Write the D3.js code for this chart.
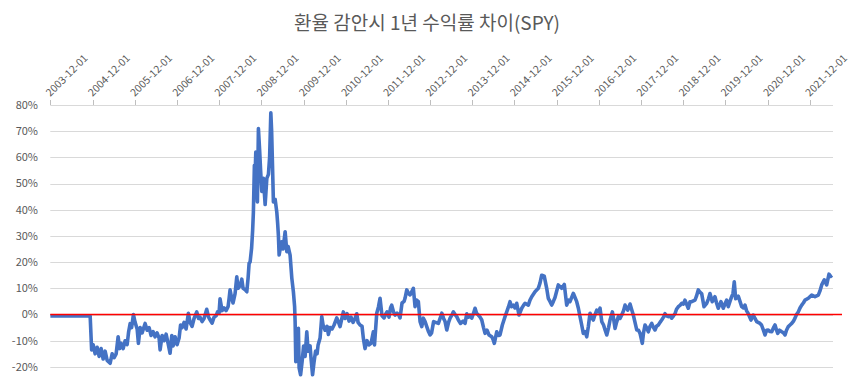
<!DOCTYPE html>
<html>
<head>
<meta charset="utf-8">
<script src="https://cdn.jsdelivr.net/npm/d3@7/dist/d3.min.js"></script>
<style>
  body { margin: 0; background: #fff; }
  svg { display: block; }
</style>
</head>
<body>
<script>
// Width and height
const w = 850;
const h = 387;

const chartTitle = "환율 감안시 1년 수익률 차이(SPY)";

// x axis labels (one per year)
const xLabels = ["2003-12-01", "2004-12-01", "2005-12-01", "2006-12-01", "2007-12-01",
  "2008-12-01", "2009-12-01", "2010-12-01", "2011-12-01", "2012-12-01", "2013-12-01",
  "2014-12-01", "2015-12-01", "2016-12-01", "2017-12-01", "2018-12-01", "2019-12-01",
  "2020-12-01", "2021-12-01"];

// y axis ticks, in %
const yTicks = [-20, -10, 0, 10, 20, 30, 40, 50, 60, 70, 80];

// last date shown on the axis (decimal year)
const xEndYear = 2022.465;

// 1y return gap (KRW vs USD) for SPY, [decimal year, %]
const spyGap = [
  [2003.917,-0.5],[2004.858,-0.5],[2004.893,-13.5],[2004.929,-11.5],[2004.976,-15],[2005.024,-12.5],
  [2005.071,-16],[2005.118,-13],[2005.166,-17],[2005.213,-14],[2005.261,-17.5],[2005.332,-18.6],
  [2005.379,-15],[2005.426,-16.5],[2005.474,-15],[2005.521,-8.5],[2005.557,-13],[2005.592,-11],
  [2005.640,-13],[2005.687,-10],[2005.735,-11.5],[2005.770,-6.6],[2005.806,-3.5],[2005.841,-5],
  [2005.884,0],[2005.924,-3],[2005.972,-5.5],[2006.002,-11],[2006.043,-5],[2006.090,-7],
  [2006.161,-3.4],[2006.209,-6],[2006.256,-5],[2006.303,-8],[2006.351,-6.5],[2006.398,-8.5],
  [2006.445,-7],[2006.493,-9],[2006.517,-13.5],[2006.564,-8],[2006.611,-10],[2006.659,-7.5],
  [2006.706,-11],[2006.753,-14.8],[2006.794,-8],[2006.825,-12],[2006.872,-8.5],[2006.919,-11.5],
  [2006.967,-9],[2007.002,-4],[2007.038,-5],[2007.085,-3],[2007.133,-5.5],[2007.187,0.5],
  [2007.227,-3],[2007.275,-4.5],[2007.322,-1.5],[2007.386,1],[2007.429,-1.5],[2007.464,-1],
  [2007.512,-2.7],[2007.559,-1.5],[2007.623,2],[2007.666,-1],[2007.701,-2],[2007.749,-3.3],
  [2007.796,-1],[2007.844,-0.5],[2007.879,1],[2007.915,0.5],[2007.938,6],[2007.986,1.5],
  [2008.033,2.5],[2008.081,1.5],[2008.128,3],[2008.152,6],[2008.175,9.4],[2008.211,6.5],
  [2008.246,4.4],[2008.294,8],[2008.334,14.4],[2008.365,10],[2008.412,11],[2008.453,13.5],
  [2008.483,10],[2008.531,9.5],[2008.571,8.7],[2008.602,14],[2008.626,19.6],[2008.649,20],
  [2008.685,25.4],[2008.709,32],[2008.727,39],[2008.751,57],[2008.768,53],[2008.784,62],
  [2008.803,50],[2008.822,43],[2008.846,71],[2008.874,63],[2008.898,55],[2008.926,47],
  [2008.964,52],[2009.005,42],[2009.045,52],[2009.083,53.5],[2009.111,60],[2009.140,77],
  [2009.159,70],[2009.178,58],[2009.201,43],[2009.242,44],[2009.282,39],[2009.301,35],
  [2009.320,30],[2009.337,22.7],[2009.372,26],[2009.400,27.8],[2009.431,25],[2009.479,31.6],
  [2009.519,24],[2009.550,26],[2009.597,22.7],[2009.637,14],[2009.675,8.7],[2009.704,3],
  [2009.716,-2.7],[2009.732,-18],[2009.751,-10],[2009.768,-16],[2009.794,-5.3],[2009.811,-20.4],
  [2009.846,-23],[2009.882,-18],[2009.917,-12],[2009.953,-16],[2009.993,-6.6],[2010.024,-14],
  [2010.071,-12],[2010.095,-17],[2010.130,-23],[2010.166,-18],[2010.201,-14],[2010.237,-15],
  [2010.261,-11.6],[2010.308,-9],[2010.348,-0.8],[2010.379,-4],[2010.427,-6],[2010.474,-4.5],
  [2010.505,-7.6],[2010.545,-5],[2010.592,-5.5],[2010.640,-4],[2010.704,-1.3],[2010.746,-3],
  [2010.782,-4.6],[2010.817,-2],[2010.860,1],[2010.900,-1.5],[2010.948,0.3],[2010.995,-2.5],
  [2011.043,-1],[2011.090,-3],[2011.137,-1.5],[2011.178,0.3],[2011.209,-3],[2011.256,-4],
  [2011.303,-4.5],[2011.334,-9],[2011.374,-13],[2011.422,-10],[2011.469,-11.6],[2011.517,-11],
  [2011.571,-6.6],[2011.599,-11.6],[2011.652,0.5],[2011.694,3],[2011.730,6.2],[2011.777,-0.5],
  [2011.825,-1.3],[2011.860,0],[2011.896,1],[2011.943,-1],[2011.979,2.5],[2012.007,3.6],
  [2012.050,1],[2012.085,-0.2],[2012.133,0.5],[2012.168,0],[2012.204,-1.3],[2012.251,4.4],
  [2012.299,5],[2012.322,6.2],[2012.363,9.4],[2012.405,8],[2012.441,7.5],[2012.488,9],
  [2012.519,10],[2012.559,3],[2012.595,5.5],[2012.637,4.9],[2012.678,-2.7],[2012.718,-4.6],
  [2012.756,-1.4],[2012.796,-2.7],[2012.836,-4.6],[2012.879,-6.6],[2012.915,-7.8],[2012.950,-7],
  [2012.998,-2.7],[2013.045,-3],[2013.111,-3.4],[2013.152,-1.5],[2013.192,0.5],[2013.235,-1.5],
  [2013.270,-2.7],[2013.310,-5.9],[2013.353,-3],[2013.389,-1.4],[2013.436,0],[2013.467,1],
  [2013.507,0],[2013.547,-0.8],[2013.585,-2.1],[2013.637,-3.4],[2013.697,-2.5],[2013.744,-3.4],
  [2013.784,0.3],[2013.827,-1],[2013.862,-0.2],[2013.903,-1.4],[2013.945,0.5],[2013.981,2.4],
  [2014.017,0.5],[2014.059,-0.2],[2014.100,-1],[2014.140,-2.1],[2014.182,-5],[2014.218,-7.2],
  [2014.265,-6],[2014.313,-7.8],[2014.377,-8.5],[2014.408,-9.5],[2014.438,-11],[2014.495,-6.6],
  [2014.538,-8],[2014.573,-7.8],[2014.628,-4],[2014.692,-0.8],[2014.732,1],[2014.775,3],
  [2014.810,4.9],[2014.846,3],[2014.889,3.6],[2014.929,2.5],[2014.969,4.3],[2015.024,-0.2],
  [2015.088,2.4],[2015.130,3.5],[2015.166,4.3],[2015.244,3.6],[2015.284,5.5],[2015.325,6.8],
  [2015.403,8.7],[2015.481,10],[2015.521,12],[2015.562,15],[2015.623,14.6],[2015.680,10],
  [2015.718,6.2],[2015.758,5],[2015.799,3.6],[2015.836,4.9],[2015.877,6.5],[2015.955,11.3],
  [2016.035,10],[2016.097,11.5],[2016.154,3.6],[2016.197,5.5],[2016.232,4.9],[2016.310,8.1],
  [2016.351,6.5],[2016.391,4.9],[2016.429,2.5],[2016.469,-0.8],[2016.509,-4],[2016.547,-7.2],
  [2016.588,-6.5],[2016.628,-8.5],[2016.666,-4.6],[2016.706,0.5],[2016.742,-1],[2016.784,-2.1],
  [2016.825,0],[2016.865,1.7],[2016.908,1],[2016.943,2.4],[2016.983,-2.7],[2017.026,-4],
  [2017.062,-5.9],[2017.102,-7.8],[2017.145,-5],[2017.180,-2.1],[2017.235,1],[2017.263,-1.5],
  [2017.299,-5.3],[2017.334,-3],[2017.377,-0.8],[2017.417,-1.5],[2017.457,-0.2],[2017.500,1.5],
  [2017.535,3.6],[2017.599,1.7],[2017.654,4],[2017.690,2],[2017.732,-0.2],[2017.772,-3],
  [2017.813,-5.9],[2017.855,-6],[2017.891,-7.2],[2017.945,-11],[2017.974,-7],[2018.009,-4],
  [2018.045,-5],[2018.088,-6.6],[2018.128,-4.5],[2018.168,-3.4],[2018.211,-5],[2018.246,-5.9],
  [2018.282,-4.5],[2018.325,-4],[2018.365,-3],[2018.405,-2.1],[2018.448,-1],[2018.483,0.3],
  [2018.519,-0.5],[2018.562,-0.8],[2018.602,-0.5],[2018.642,-1.4],[2018.685,-0.5],[2018.720,0.3],
  [2018.756,2],[2018.799,3],[2018.839,3.5],[2018.879,4.3],[2018.922,4],[2018.957,5.5],
  [2019.035,2.4],[2019.076,4.9],[2019.116,4.9],[2019.194,5.5],[2019.230,7],[2019.272,9.4],
  [2019.313,8.5],[2019.353,8],[2019.408,3],[2019.472,4.3],[2019.514,6],[2019.550,8],
  [2019.604,4.9],[2019.668,6.8],[2019.704,4.5],[2019.746,2.4],[2019.810,4.9],[2019.865,2.4],
  [2019.905,4],[2019.945,5.5],[2019.983,3],[2020.024,5],[2020.064,6.8],[2020.095,8],
  [2020.126,12.5],[2020.159,6],[2020.220,7],[2020.261,5],[2020.301,3],[2020.344,2.5],
  [2020.379,3.6],[2020.415,1.5],[2020.457,0.3],[2020.521,-2.1],[2020.576,-0.2],[2020.616,-1.5],
  [2020.656,-2.7],[2020.735,-3.4],[2020.770,-4],[2020.813,-5.9],[2020.853,-7.8],[2020.889,-6],
  [2020.931,-5.9],[2020.972,-6.5],[2021.012,-6.6],[2021.054,-5],[2021.090,-4],[2021.126,-6],
  [2021.154,-7.2],[2021.197,-6],[2021.249,-6.6],[2021.291,-7],[2021.327,-7.8],[2021.362,-6],
  [2021.405,-4.6],[2021.445,-4],[2021.486,-3.4],[2021.528,-2.5],[2021.564,-1.4],[2021.599,0],
  [2021.642,1],[2021.682,2.5],[2021.723,3.6],[2021.765,4.5],[2021.801,5.5],[2021.879,6.2],
  [2021.960,7.4],[2022.038,6.8],[2022.116,7.4],[2022.156,9],[2022.197,11.3],[2022.258,13.2],
  [2022.315,11.3],[2022.370,15.4],[2022.410,14.6],[2022.441,15]
];

var parseDate = d3.timeParse("%Y-%m-%d");

// decimal year -> Date
function yearToDate(t) {
  var yr = Math.floor(t);
  var a = new Date(yr, 0, 1), b = new Date(yr + 1, 0, 1);
  return new Date(+a + (t - yr) * (b - a));
}

var plotLeft = 50.3, plotRight = 833, plotTop = 105, plotBottom = 366.9;

var x = d3.scaleTime()
  .domain([parseDate(xLabels[0]), yearToDate(xEndYear)])
  .range([plotLeft, plotRight]);

var y = d3.scaleLinear()
  .domain([-20, 80])
  .range([plotBottom, plotTop]);

var font = "'Noto Sans CJK KR', 'Noto Sans', sans-serif";
var grey = "#595959";

var svg = d3.select("body")
  .append("svg")
  .attr("width", w)
  .attr("height", h);

// title
svg.append("text")
  .attr("x", 427)
  .attr("y", 30)
  .attr("text-anchor", "middle")
  .style("font-family", font)
  .style("font-size", "19px")
  .style("fill", grey)
  .text(chartTitle);

// gridlines
svg.append("g")
  .selectAll("line")
  .data(yTicks)
  .enter()
  .append("line")
  .attr("x1", plotLeft)
  .attr("x2", plotRight)
  .attr("y1", d => Math.round(y(d)) + 0.5)
  .attr("y2", d => Math.round(y(d)) + 0.5)
  .style("stroke", "#d9d9d9")
  .style("stroke-width", 1);

// y labels
svg.append("g")
  .selectAll("text")
  .data(yTicks)
  .enter()
  .append("text")
  .attr("x", 38)
  .attr("y", d => y(d))
  .attr("dy", "0.35em")
  .attr("text-anchor", "end")
  .style("font-family", font)
  .style("font-size", "11px")
  .style("fill", grey)
  .text(d => d + "%");

// x ticks (axis sits on top)
var xg = svg.append("g");
xg.selectAll("line")
  .data(xLabels)
  .enter()
  .append("line")
  .attr("x1", d => Math.round(x(parseDate(d))) + 0.5)
  .attr("x2", d => Math.round(x(parseDate(d))) + 0.5)
  .attr("y1", Math.round(y(80)))
  .attr("y2", Math.round(y(80)) - 5)
  .style("stroke", "#bfbfbf")
  .style("stroke-width", 1);

xg.selectAll("text")
  .data(xLabels)
  .enter()
  .append("text")
  .attr("transform", d => "translate(" + x(parseDate(d)) + "," + (y(80) - 8) + ") rotate(-45)")
  .attr("text-anchor", "start")
  .style("font-family", font)
  .style("font-size", "10.5px")
  .style("fill", grey)
  .text(d => d);

// the series
var line = d3.line()
  .x(d => x(yearToDate(d[0])))
  .y(d => y(d[1]));

svg.append("path")
  .datum(spyGap)
  .attr("d", line)
  .style("fill", "none")
  .style("stroke", "#4472c4")
  .style("stroke-width", 3.6)
  .style("stroke-linejoin", "round");

// zero line
svg.append("line")
  .attr("x1", plotLeft)
  .attr("x2", 842)
  .attr("y1", y(0))
  .attr("y2", y(0))
  .style("stroke", "#ff0000")
  .style("stroke-width", 1.5);
</script>
</body>
</html>
